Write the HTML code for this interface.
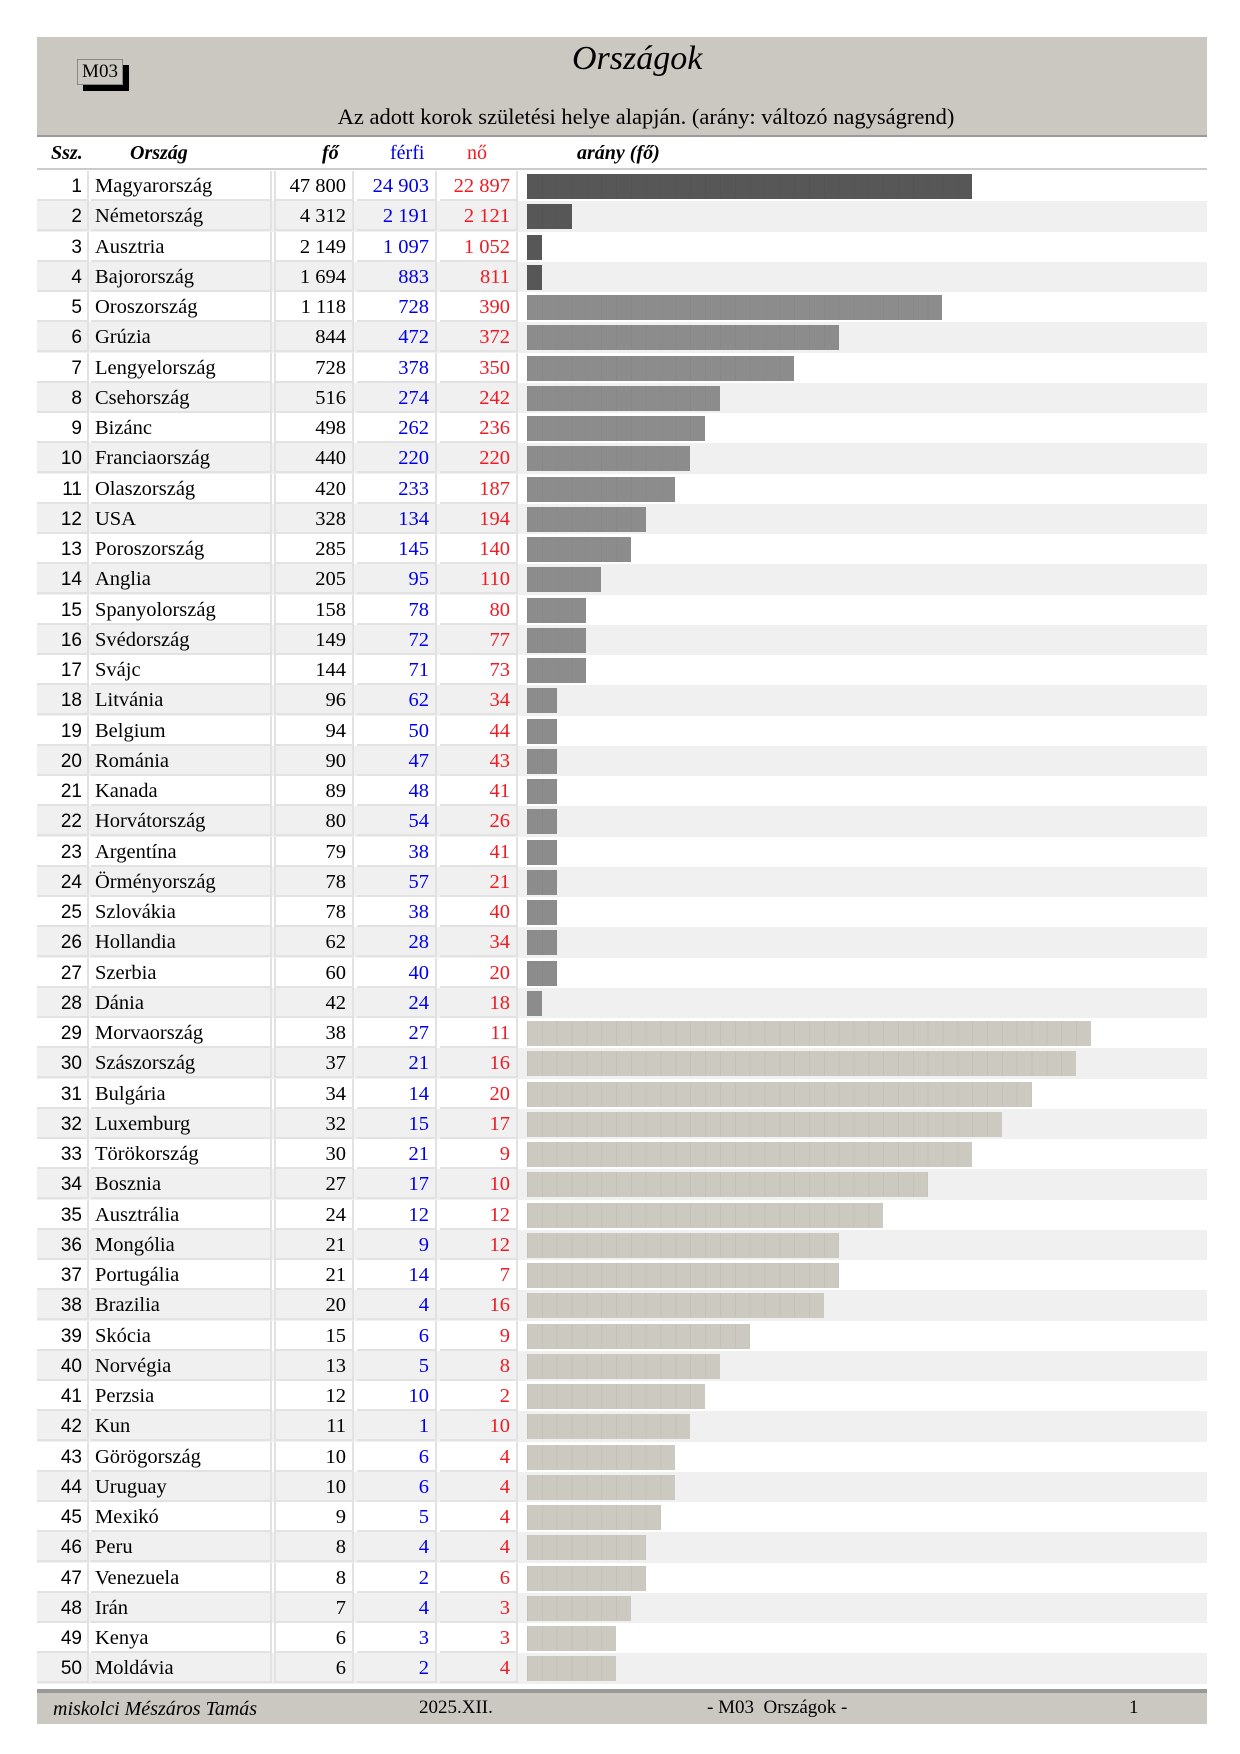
<!DOCTYPE html>
<html><head><meta charset="utf-8">
<style>
*{margin:0;padding:0;box-sizing:border-box}
body{width:1240px;height:1754px;background:#fff;position:relative;font-family:"Liberation Serif",serif;overflow:hidden}
#hdr{position:absolute;left:37px;top:37px;width:1170px;height:100px;background:#cbc8c1;border-bottom:2px solid #9a9a9a}
#m03{position:absolute;left:40px;top:22px;width:46px;height:26px;border:1px solid #888;font-size:19px;line-height:24px;text-align:center;background:#cbc8c1;box-shadow:6px 6px 0 #000;z-index:2}
#title{position:absolute;left:535px;width:130px;text-align:center;top:3px;font-size:34px;font-style:italic;font-family:"Liberation Serif",serif}
#sub{position:absolute;left:0;width:100%;text-align:center;top:67px;font-size:22.5px;padding-left:48px}
#colh{position:absolute;left:37px;top:139px;width:1170px;height:31px;border-bottom:2px solid #ccc;font-size:20px}
#colh span{position:absolute;top:3px}
#rows{position:absolute;left:37px;top:171px;width:1170px}
.r{height:30.26px;position:relative;font-size:20.5px}
.r.e{background:#f0f0f0}
.r div{position:absolute;top:0;height:30px;line-height:31px;border-right:2px solid #e2e2e2;border-bottom:2px solid #e2e2e2}
.n{left:0;width:52px;text-align:right;padding-right:5px;font-family:"Liberation Sans Narrow","Liberation Sans",sans-serif;font-size:19px}
.c{left:54px;width:181px;padding-left:4px}
.f{left:237px;width:80px;text-align:right;padding-right:6px;border-left:2px solid #e2e2e2}
.m{left:320px;width:80px;text-align:right;padding-right:6px;color:#0000ee}
.w{left:403px;width:78px;text-align:right;padding-right:6px;color:#ee1c24}
.r i{position:absolute;left:490px;top:3px;height:25px;background-image:repeating-linear-gradient(90deg,rgba(0,0,0,0.04) 0 1px,transparent 1px 14.84px)}
.d{background-color:#575757}.g{background-color:#8c8c8c}.l{background-color:#ccc9c1}
#ftr{position:absolute;left:37px;top:1689px;width:1170px;height:35px;background:#cbc8c1;border-top:4px solid #999;font-size:19px}
#ftr span{position:absolute;top:4px}
</style></head><body>
<div id="hdr"><div id="m03">M03</div><div id="title">Országok</div><div id="sub">Az adott korok születési helye alapján. (arány: változó nagyságrend)</div></div>
<div id="colh">
<span style="left:14px;font-weight:bold;font-style:italic">Ssz.</span>
<span style="left:93px;font-weight:bold;font-style:italic">Ország</span>
<span style="left:285px;font-weight:bold;font-style:italic">fő</span>
<span style="left:353px;color:#0000ee">férfi</span>
<span style="left:430px;color:#ee1c24">nő</span>
<span style="left:540px;font-weight:bold;font-style:italic">arány (fő)</span>
</div>
<div id="rows">
<div class="r"><div class="n">1</div><div class="c">Magyarország</div><div class="f">47 800</div><div class="m">24 903</div><div class="w">22 897</div><i class="d" style="width:445px"></i></div>
<div class="r e"><div class="n">2</div><div class="c">Németország</div><div class="f">4 312</div><div class="m">2 191</div><div class="w">2 121</div><i class="d" style="width:45px"></i></div>
<div class="r"><div class="n">3</div><div class="c">Ausztria</div><div class="f">2 149</div><div class="m">1 097</div><div class="w">1 052</div><i class="d" style="width:15px"></i></div>
<div class="r e"><div class="n">4</div><div class="c">Bajorország</div><div class="f">1 694</div><div class="m">883</div><div class="w">811</div><i class="d" style="width:15px"></i></div>
<div class="r"><div class="n">5</div><div class="c">Oroszország</div><div class="f">1 118</div><div class="m">728</div><div class="w">390</div><i class="g" style="width:415px"></i></div>
<div class="r e"><div class="n">6</div><div class="c">Grúzia</div><div class="f">844</div><div class="m">472</div><div class="w">372</div><i class="g" style="width:312px"></i></div>
<div class="r"><div class="n">7</div><div class="c">Lengyelország</div><div class="f">728</div><div class="m">378</div><div class="w">350</div><i class="g" style="width:267px"></i></div>
<div class="r e"><div class="n">8</div><div class="c">Csehország</div><div class="f">516</div><div class="m">274</div><div class="w">242</div><i class="g" style="width:193px"></i></div>
<div class="r"><div class="n">9</div><div class="c">Bizánc</div><div class="f">498</div><div class="m">262</div><div class="w">236</div><i class="g" style="width:178px"></i></div>
<div class="r e"><div class="n">10</div><div class="c">Franciaország</div><div class="f">440</div><div class="m">220</div><div class="w">220</div><i class="g" style="width:163px"></i></div>
<div class="r"><div class="n">11</div><div class="c">Olaszország</div><div class="f">420</div><div class="m">233</div><div class="w">187</div><i class="g" style="width:148px"></i></div>
<div class="r e"><div class="n">12</div><div class="c">USA</div><div class="f">328</div><div class="m">134</div><div class="w">194</div><i class="g" style="width:119px"></i></div>
<div class="r"><div class="n">13</div><div class="c">Poroszország</div><div class="f">285</div><div class="m">145</div><div class="w">140</div><i class="g" style="width:104px"></i></div>
<div class="r e"><div class="n">14</div><div class="c">Anglia</div><div class="f">205</div><div class="m">95</div><div class="w">110</div><i class="g" style="width:74px"></i></div>
<div class="r"><div class="n">15</div><div class="c">Spanyolország</div><div class="f">158</div><div class="m">78</div><div class="w">80</div><i class="g" style="width:59px"></i></div>
<div class="r e"><div class="n">16</div><div class="c">Svédország</div><div class="f">149</div><div class="m">72</div><div class="w">77</div><i class="g" style="width:59px"></i></div>
<div class="r"><div class="n">17</div><div class="c">Svájc</div><div class="f">144</div><div class="m">71</div><div class="w">73</div><i class="g" style="width:59px"></i></div>
<div class="r e"><div class="n">18</div><div class="c">Litvánia</div><div class="f">96</div><div class="m">62</div><div class="w">34</div><i class="g" style="width:30px"></i></div>
<div class="r"><div class="n">19</div><div class="c">Belgium</div><div class="f">94</div><div class="m">50</div><div class="w">44</div><i class="g" style="width:30px"></i></div>
<div class="r e"><div class="n">20</div><div class="c">Románia</div><div class="f">90</div><div class="m">47</div><div class="w">43</div><i class="g" style="width:30px"></i></div>
<div class="r"><div class="n">21</div><div class="c">Kanada</div><div class="f">89</div><div class="m">48</div><div class="w">41</div><i class="g" style="width:30px"></i></div>
<div class="r e"><div class="n">22</div><div class="c">Horvátország</div><div class="f">80</div><div class="m">54</div><div class="w">26</div><i class="g" style="width:30px"></i></div>
<div class="r"><div class="n">23</div><div class="c">Argentína</div><div class="f">79</div><div class="m">38</div><div class="w">41</div><i class="g" style="width:30px"></i></div>
<div class="r e"><div class="n">24</div><div class="c">Örményország</div><div class="f">78</div><div class="m">57</div><div class="w">21</div><i class="g" style="width:30px"></i></div>
<div class="r"><div class="n">25</div><div class="c">Szlovákia</div><div class="f">78</div><div class="m">38</div><div class="w">40</div><i class="g" style="width:30px"></i></div>
<div class="r e"><div class="n">26</div><div class="c">Hollandia</div><div class="f">62</div><div class="m">28</div><div class="w">34</div><i class="g" style="width:30px"></i></div>
<div class="r"><div class="n">27</div><div class="c">Szerbia</div><div class="f">60</div><div class="m">40</div><div class="w">20</div><i class="g" style="width:30px"></i></div>
<div class="r e"><div class="n">28</div><div class="c">Dánia</div><div class="f">42</div><div class="m">24</div><div class="w">18</div><i class="g" style="width:15px"></i></div>
<div class="r"><div class="n">29</div><div class="c">Morvaország</div><div class="f">38</div><div class="m">27</div><div class="w">11</div><i class="l" style="width:564px"></i></div>
<div class="r e"><div class="n">30</div><div class="c">Szászország</div><div class="f">37</div><div class="m">21</div><div class="w">16</div><i class="l" style="width:549px"></i></div>
<div class="r"><div class="n">31</div><div class="c">Bulgária</div><div class="f">34</div><div class="m">14</div><div class="w">20</div><i class="l" style="width:505px"></i></div>
<div class="r e"><div class="n">32</div><div class="c">Luxemburg</div><div class="f">32</div><div class="m">15</div><div class="w">17</div><i class="l" style="width:475px"></i></div>
<div class="r"><div class="n">33</div><div class="c">Törökország</div><div class="f">30</div><div class="m">21</div><div class="w">9</div><i class="l" style="width:445px"></i></div>
<div class="r e"><div class="n">34</div><div class="c">Bosznia</div><div class="f">27</div><div class="m">17</div><div class="w">10</div><i class="l" style="width:401px"></i></div>
<div class="r"><div class="n">35</div><div class="c">Ausztrália</div><div class="f">24</div><div class="m">12</div><div class="w">12</div><i class="l" style="width:356px"></i></div>
<div class="r e"><div class="n">36</div><div class="c">Mongólia</div><div class="f">21</div><div class="m">9</div><div class="w">12</div><i class="l" style="width:312px"></i></div>
<div class="r"><div class="n">37</div><div class="c">Portugália</div><div class="f">21</div><div class="m">14</div><div class="w">7</div><i class="l" style="width:312px"></i></div>
<div class="r e"><div class="n">38</div><div class="c">Brazilia</div><div class="f">20</div><div class="m">4</div><div class="w">16</div><i class="l" style="width:297px"></i></div>
<div class="r"><div class="n">39</div><div class="c">Skócia</div><div class="f">15</div><div class="m">6</div><div class="w">9</div><i class="l" style="width:223px"></i></div>
<div class="r e"><div class="n">40</div><div class="c">Norvégia</div><div class="f">13</div><div class="m">5</div><div class="w">8</div><i class="l" style="width:193px"></i></div>
<div class="r"><div class="n">41</div><div class="c">Perzsia</div><div class="f">12</div><div class="m">10</div><div class="w">2</div><i class="l" style="width:178px"></i></div>
<div class="r e"><div class="n">42</div><div class="c">Kun</div><div class="f">11</div><div class="m">1</div><div class="w">10</div><i class="l" style="width:163px"></i></div>
<div class="r"><div class="n">43</div><div class="c">Görögország</div><div class="f">10</div><div class="m">6</div><div class="w">4</div><i class="l" style="width:148px"></i></div>
<div class="r e"><div class="n">44</div><div class="c">Uruguay</div><div class="f">10</div><div class="m">6</div><div class="w">4</div><i class="l" style="width:148px"></i></div>
<div class="r"><div class="n">45</div><div class="c">Mexikó</div><div class="f">9</div><div class="m">5</div><div class="w">4</div><i class="l" style="width:134px"></i></div>
<div class="r e"><div class="n">46</div><div class="c">Peru</div><div class="f">8</div><div class="m">4</div><div class="w">4</div><i class="l" style="width:119px"></i></div>
<div class="r"><div class="n">47</div><div class="c">Venezuela</div><div class="f">8</div><div class="m">2</div><div class="w">6</div><i class="l" style="width:119px"></i></div>
<div class="r e"><div class="n">48</div><div class="c">Irán</div><div class="f">7</div><div class="m">4</div><div class="w">3</div><i class="l" style="width:104px"></i></div>
<div class="r"><div class="n">49</div><div class="c">Kenya</div><div class="f">6</div><div class="m">3</div><div class="w">3</div><i class="l" style="width:89px"></i></div>
<div class="r e"><div class="n">50</div><div class="c">Moldávia</div><div class="f">6</div><div class="m">2</div><div class="w">4</div><i class="l" style="width:89px"></i></div>
</div>
<div id="ftr">
<span style="left:16px;font-style:italic;font-size:20px;top:5px">miskolci Mészáros Tamás</span>
<span style="left:382px">2025.XII.</span>
<span style="left:670px">- M03&nbsp; Országok -</span>
<span style="left:1092px">1</span>
</div>
</body></html>
